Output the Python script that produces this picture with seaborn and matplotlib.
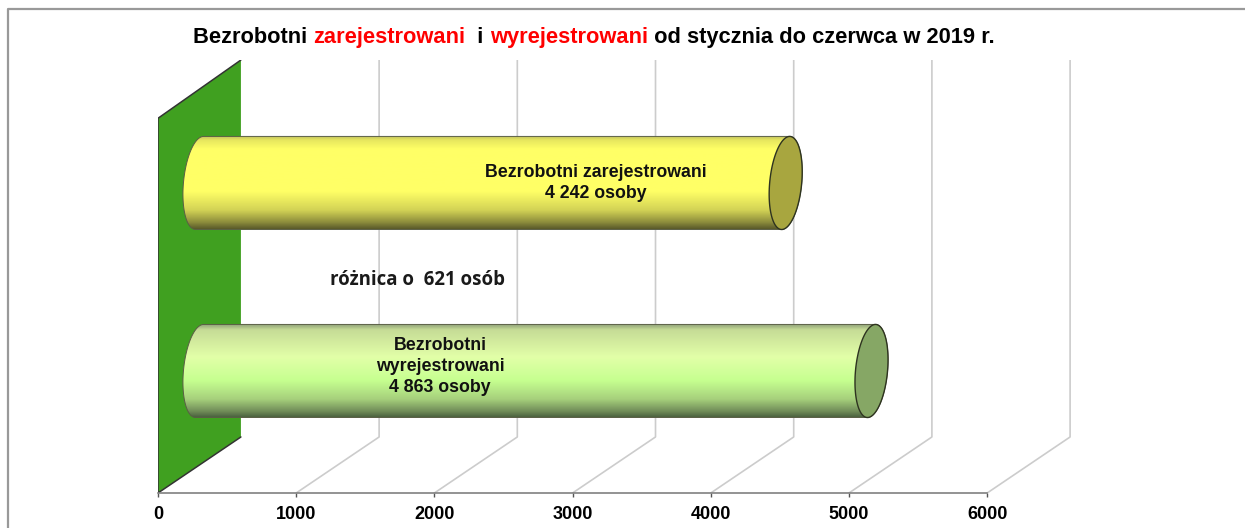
import numpy as np
import pandas as pd
import matplotlib
matplotlib.use("Agg")
import matplotlib.pyplot as plt
import seaborn as sns
from matplotlib.colors import LinearSegmentedColormap
from matplotlib.lines import Line2D
from matplotlib.patches import Polygon

# Data
categories = ["zarejestrowani", "wyrejestrowani"]
values = [4242, 4863]
ticks = [0, 1000, 2000, 3000, 4000, 5000, 6000]
bar_labels = ["Bezrobotni zarejestrowani\n4 242 osoby", "Bezrobotni\nwyrejestrowani\n4 863 osoby"]
label_x = [3169, 2040]
label_dy = [0.0, -0.025]
title_parts = ["Bezrobotni ", "zarejestrowani", "  i ", "wyrejestrowani", " od stycznia do czerwca w 2019 r."]
title_colors = ["black", "red", "black", "red", "black"]

cap_colors = ["#A8A63F", "#86A765"]
base_colors = ["#FFFF66", "#CCFF99"]
stops = [
    [(0, "#B5B560"), (0.05, "#E6E65E"), (0.15, "#FFFF66"), (0.6, "#FFFF66"), (0.8, "#D2D255"), (0.93, "#8C8C3C"), (1, "#5A5A2A")],
    [(0, "#8FA078"), (0.06, "#C6DC96"), (0.35, "#E2FFA8"), (0.6, "#C6FF90"), (0.8, "#A6D07C"), (0.93, "#708C58"), (1, "#465C3C")],
]

# 3d look, in axis units
depth_x = 600
depth_y = 0.298
wall_top = 0.31
tilt_x = 29
cap_x = 116

sns.set_style("white")
plt.rcParams["font.family"] = ["Liberation Sans", "DejaVu Sans"]

fig = plt.figure(figsize=(12.45, 5.28), dpi=100)
ax = fig.add_axes([158 / 1245, 1 - 493 / 528, 919 / 1245, 433 / 528])

df = pd.DataFrame({"kategoria": categories, "osoby": values})
sns.barplot(data=df, x="osoby", y="kategoria", hue="kategoria", palette=base_colors,
            legend=False, width=0.495, orient="h", ax=ax, zorder=3)

xlim = (0, 6650)
ylim = (1.649, -0.654)
front = ylim[0]
back = front - depth_y

# back gridlines and floor lines
for t in ticks[1:]:
    ax.plot([t, t + depth_x, t + depth_x], [front, back, ylim[1]], color="#CCCCCC", lw=1.2, zorder=1)

# green wall
wall = Polygon([(0, front), (depth_x, back), (depth_x, ylim[1]), (0, ylim[1] + wall_top)],
               closed=True, facecolor="#40A020", edgecolor="none", zorder=2)
ax.add_patch(wall)
ax.plot([depth_x, 0, 0, depth_x], [ylim[1], ylim[1] + wall_top, front, back], color="#333333", lw=1.1, zorder=2)

# cylinders built on the bars seaborn drew
t = np.linspace(0, 2 * np.pi, 200)
for i, bar in enumerate(ax.patches[:len(values)]):
    x0, y0, w, h = depth_x / 2, bar.get_y(), bar.get_width(), bar.get_height()
    bar.set_visible(False)
    yc = y0 + h / 2
    x1 = x0 + w

    # left half of the start cap, then back along the right half of the end cap
    lt = np.linspace(np.pi / 2, 3 * np.pi / 2, 60)
    lx = x0 + cap_x * np.cos(lt) + tilt_x * np.sin(lt)
    ly = yc - h / 2 * np.sin(lt)
    rt = np.linspace(-np.pi / 2, np.pi / 2, 60)
    rx = x1 + cap_x * np.cos(rt) + tilt_x * np.sin(rt)
    ry = yc - h / 2 * np.sin(rt)
    outline = Polygon(np.column_stack([np.r_[lx, rx], np.r_[ly, ry]]), closed=True,
                      facecolor="none", edgecolor="#5A5F45", lw=0.7, zorder=4)
    ax.add_patch(outline)

    cmap = LinearSegmentedColormap.from_list("cyl%d" % i, stops[i])
    img = ax.imshow(np.linspace(0, 1, 256).reshape(-1, 1), cmap=cmap, aspect="auto", origin="upper",
                    extent=(x0 - 200, x1 + 200, y0 + h, y0), zorder=3.5)
    img.set_clip_path(outline)

    ex = cap_x * np.cos(t) + tilt_x * np.sin(t)
    ey = -h / 2 * np.sin(t)
    ax.fill(x1 + ex, yc + ey, facecolor=cap_colors[i], edgecolor="#2E3320", lw=1.0, zorder=5)
    ax.text(label_x[i], yc + label_dy[i], bar_labels[i], ha="center", va="center",
            fontsize=12.8, fontweight="bold", color="#111111", zorder=6, linespacing=1.3)

ax.text(1881, 0.516, "różnica o  621 osób", ha="center", va="center", fontsize=13.4,
        fontweight="bold", family=["Open Sans", "DejaVu Sans"], color="#1A1A1A", zorder=6)

ax.set_xlim(xlim)
ax.set_ylim(ylim)
ax.set_xlabel("")
ax.set_ylabel("")
ax.set_yticks([])
ax.set_xticks(ticks)
ax.tick_params(axis="x", length=3, width=1, color="#555555", pad=6.5, bottom=True)
for lab in ax.get_xticklabels():
    lab.set_fontsize(13)
    lab.set_fontweight("bold")
    lab.set_color("black")
sns.despine(ax=ax, left=True)
ax.spines["bottom"].set_bounds(0, 6000)
ax.spines["bottom"].set_color("#808080")
ax.spines["bottom"].set_linewidth(1.2)
ax.patch.set_alpha(0)

# frame of the slide
fig.add_artist(Line2D([8 / 1245, 8 / 1245, 1], [0, 1 - 9 / 528, 1 - 9 / 528], color="#999999", lw=1.6))

# title in coloured pieces
fig.canvas.draw()
renderer = fig.canvas.get_renderer()
x = 193
for part, col in zip(title_parts, title_colors):
    txt = fig.text(x / 1245, 1 - 43 / 528, part, color=col, fontsize=15.75, fontweight="bold", va="baseline", ha="left")
    x = txt.get_window_extent(renderer).x1

fig.savefig("out.png", dpi=100)
